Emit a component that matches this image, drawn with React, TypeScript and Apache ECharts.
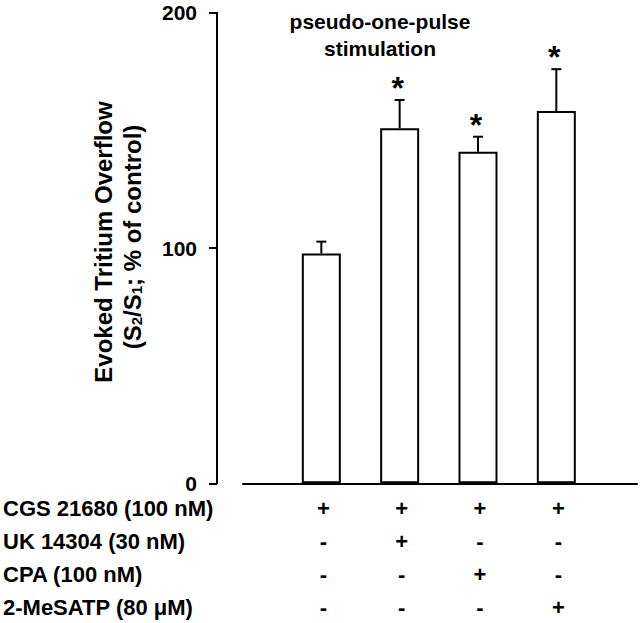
import React, { useEffect, useRef } from "react";
import * as echarts from "echarts";

const categories = ["CGS", "CGS+UK", "CGS+CPA", "CGS+2-MeSATP"];
const means = [97.7, 150.9, 140.9, 158.2];
const sems = [5.0, 12.0, 6.4, 17.8];
const significant = [false, true, true, true];
const yTicks = [0, 100, 200];
const treatmentNames = ["CGS 21680 (100 nM)", "UK 14304 (30 nM)", "CPA (100 nM)", "2-MeSATP (80 \u03bcM)"];
const treatmentMatrix = [
  [1, 1, 1, 1],
  [0, 1, 0, 0],
  [0, 0, 1, 0],
  [0, 0, 0, 1],
];
const titleLines = ["pseudo-one-pulse", "stimulation"];

const FONT = "'Liberation Sans', Arial, Helvetica, sans-serif";
const ROW_Y0 = 508;
const ROW_STEP = 33;

export default function App() {
  const ref = useRef<HTMLDivElement>(null);
  useEffect(() => {
    if (!ref.current) return;
    const chart = echarts.init(ref.current, null, { renderer: "svg" });

    const barData = means.map((v, i) => [i + 1, v]);
    const errData = means.map((v, i) => [i + 1, v, v + sems[i], significant[i] ? 1 : 0]);
    const tableData: number[][] = [];
    treatmentMatrix.forEach((row, r) => row.forEach((f, c) => tableData.push([c + 1, 0, r, f])));

    const option: any = {
      animation: false,
      backgroundColor: "#ffffff",
      grid: { left: 243, right: 3, top: 12.7, bottom: 139.7, containLabel: false },
      xAxis: {
        type: "value",
        min: 0,
        max: 5.03,
        axisLine: { show: true, onZero: false, lineStyle: { color: "#000", width: 2 } },
        axisTick: { show: false },
        axisLabel: { show: false },
        splitLine: { show: false },
      },
      yAxis: {
        type: "value",
        min: yTicks[0],
        max: yTicks[yTicks.length - 1],
        interval: 100,
        offset: 26,
        axisLine: { show: true, onZero: false, lineStyle: { color: "#000", width: 2 } },
        axisTick: { show: true, length: 8, lineStyle: { color: "#000", width: 2 } },
        axisLabel: { color: "#000", fontSize: 21, fontWeight: "bold", fontFamily: FONT, margin: 20 },
        splitLine: { show: false },
      },
      series: [
        {
          type: "bar",
          name: "Evoked overflow",
          data: barData,
          barWidth: 39,
          itemStyle: { color: "#fff", borderColor: "#000", borderWidth: 2 },
        },
        {
          type: "custom",
          name: "SEM",
          data: errData,
          encode: { x: 0, y: [1, 2] },
          clip: false,
          renderItem: (params: any, api: any) => {
            const x = api.value(0);
            const p0 = api.coord([x, api.value(1)]);
            const p1 = api.coord([x, api.value(2)]);
            const children: any[] = [
              { type: "line", shape: { x1: p0[0], y1: p0[1], x2: p1[0], y2: p1[1] }, style: { stroke: "#000", lineWidth: 2 } },
              { type: "line", shape: { x1: p1[0] - 5, y1: p1[1], x2: p1[0] + 5, y2: p1[1] }, style: { stroke: "#000", lineWidth: 2 } },
            ];
            if (api.value(3)) {
              children.push({
                type: "text",
                x: p1[0] - 2,
                y: p1[1] - 12,
                style: { text: "*", fill: "#000", font: `bold 32px ${FONT}`, align: "center", verticalAlign: "middle" },
              });
            }
            return { type: "group", children };
          },
        },
        {
          type: "custom",
          name: "Treatments",
          data: tableData,
          encode: { x: 0, y: 1 },
          clip: false,
          renderItem: (params: any, api: any) => {
            const p = api.coord([api.value(0), 0]);
            const row = api.value(2);
            return {
              type: "text",
              x: p[0] + 2,
              y: ROW_Y0 + row * ROW_STEP,
              style: {
                text: api.value(3) ? "+" : "-",
                fill: "#000",
                font: `bold 22px ${FONT}`,
                align: "center",
                verticalAlign: "middle",
              },
            };
          },
        },
      ],
      graphic: [
        ...titleLines.map((t, i) => ({
          type: "text",
          x: 380,
          y: 21 + i * 27,
          style: { text: t, fill: "#000", font: `bold 21px ${FONT}`, align: "center", verticalAlign: "middle" },
        })),
        ...treatmentNames.map((t, i) => ({
          type: "text",
          x: 3,
          y: ROW_Y0 + i * ROW_STEP,
          style: { text: t, fill: "#000", font: `bold 22px ${FONT}`, align: "left", verticalAlign: "middle" },
        })),
        {
          type: "text",
          x: 103,
          y: 242,
          rotation: Math.PI / 2,
          style: { text: "Evoked Tritium Overflow", fill: "#000", font: `bold 24px ${FONT}`, align: "center", verticalAlign: "middle" },
        },
        {
          type: "text",
          x: 132,
          y: 237,
          rotation: Math.PI / 2,
          style: {
            text: "(S{sub|2}/S{sub|1}; % of control)",
            fill: "#000",
            font: `bold 24px ${FONT}`,
            align: "center",
            verticalAlign: "middle",
            rich: {
              sub: { fontSize: 15, fontWeight: "bold", fontFamily: FONT, fill: "#000", verticalAlign: "bottom", padding: [8, 0, 0, 0] },
            },
          },
        },
      ],
    };
    chart.setOption(option);
    return () => chart.dispose();
  }, []);
  return <div ref={ref} style={{ position: "fixed", left: 0, top: 0, width: 640, height: 623, background: "#fff" }} />;
}
